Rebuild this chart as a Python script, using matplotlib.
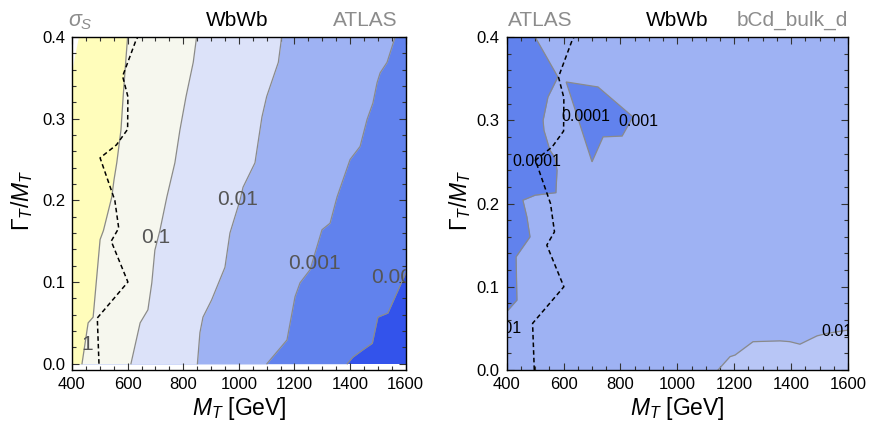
import matplotlib
matplotlib.use('Agg')
import matplotlib.pyplot as plt
import numpy as np

plt.rcParams['font.family'] = 'Liberation Sans'
plt.rcParams['mathtext.fontset'] = 'custom'
plt.rcParams['mathtext.rm'] = 'Liberation Sans'
plt.rcParams['mathtext.it'] = 'Liberation Sans:italic'

# ---- left panel: sigma_S contour boundaries (M_T in GeV at given Gamma/M) ----
# data edge (no points computed in the top-left corner)
edge_g = [0.0, 0.36, 0.38, 0.40]
edge_m = [400, 400, 411, 423]

c1_g = [0.0, 0.050, 0.057, 0.152, 0.163, 0.204, 0.225, 0.246, 0.286, 0.327, 0.369, 0.40]
c1_m = [436, 458, 476, 501, 513, 543, 551, 561, 576, 584, 593, 600]

c01_g = [0.0, 0.050, 0.066, 0.099, 0.139, 0.163, 0.204, 0.246, 0.286, 0.327, 0.369, 0.40]
c01_m = [612, 645, 673, 687, 698, 716, 741, 770, 788, 810, 836, 848]

c001_g = [0.0, 0.038, 0.057, 0.078, 0.118, 0.160, 0.200, 0.216, 0.246, 0.302, 0.327, 0.369, 0.40]
c001_m = [851, 860, 871, 902, 950, 968, 1004, 1015, 1058, 1083, 1100, 1142, 1154]

c0001_g = [0.0, 0.029, 0.082, 0.099, 0.115, 0.164, 0.172, 0.204, 0.250, 0.266, 0.299, 0.319,
           0.344, 0.356, 0.369, 0.40]
c0001_m = [1101, 1173, 1202, 1220, 1256, 1299, 1328, 1353, 1400, 1436, 1461, 1482,
           1497, 1508, 1533, 1562]

c00001_g = [0.0, 0.008, 0.017, 0.025, 0.057, 0.062, 0.111]
c00001_m = [1390, 1410, 1446, 1480, 1500, 1536, 1600]

# exclusion line (same on both panels)
excl_g = [0.0, 0.056, 0.100, 0.150, 0.166, 0.200, 0.252, 0.268, 0.287, 0.327, 0.352, 0.396, 0.40]
excl_m = [497, 491, 601, 541, 568, 554, 501, 560, 600, 601, 582, 630, 637]

# ---- right panel regions ----
dark_g = [0.072, 0.084, 0.136, 0.160, 0.184, 0.204, 0.210, 0.213, 0.240, 0.255, 0.264,
          0.288, 0.300, 0.328, 0.352, 0.40]
dark_m = [405, 436, 433, 482, 471, 457, 500, 573, 577, 570, 552,
          531, 528, 545, 580, 500]

island_m = [609, 721, 844, 806, 739, 700]
island_g = [0.346, 0.340, 0.304, 0.281, 0.280, 0.250]

light_m = [1143, 1185, 1203, 1266, 1361, 1396, 1431, 1491, 1527, 1600]
light_g = [0.0, 0.016, 0.018, 0.034, 0.035, 0.034, 0.031, 0.041, 0.044, 0.048]

# colours for the log bands
col_1 = '#fffdbb'
col_01 = '#f6f7ee'
col_001 = '#dce2f9'
col_0001 = '#9eb2f3'
col_00001 = '#6182ed'
col_low = '#3353eb'
col_light_r = '#b8c6f6'
line_col = '#8a8a8a'

W, H = 870, 429
fig = plt.figure(figsize=(W / 100, H / 100), dpi=100)


def px(x, y):
    return x / W, 1 - y / H


ax1 = fig.add_axes([72 / W, 1 - 370 / H, (405.7 - 72) / W, 333 / H])
ax2 = fig.add_axes([506.7 / W, 1 - 370 / H, (848 - 506.7) / W, 333 / H])

# left panel fills, from the smallest values up
ax1.fill_betweenx([0, 0.4], 400, 1600, color=col_low, lw=0)
ax1.fill_betweenx(c00001_g + [0.4], 400, c00001_m + [1600], color=col_00001, lw=0)
ax1.fill_betweenx(c0001_g, 400, c0001_m, color=col_0001, lw=0)
ax1.fill_betweenx(c001_g, 400, c001_m, color=col_001, lw=0)
ax1.fill_betweenx(c01_g, 400, c01_m, color=col_01, lw=0)
ax1.fill_betweenx(c1_g, 400, c1_m, color=col_1, lw=0)
ax1.fill_betweenx(edge_g, 400, edge_m, color='white', lw=0)
for g, m in [(c1_g, c1_m), (c01_g, c01_m), (c001_g, c001_m),
             (c0001_g, c0001_m), (c00001_g, c00001_m)]:
    ax1.plot(m, g, color=line_col, lw=0.9)
ax1.plot(excl_m, excl_g, color='black', lw=1.1, ls=(0, (3, 2)))

lab_kw = dict(fontsize=15, color='#555555', ha='center', va='center', clip_on=True)
ax1.text(997, 0.2006, '0.01', **lab_kw)
ax1.text(702, 0.154, '0.1', **lab_kw)
ax1.text(1272, 0.123, '0.001', **lab_kw)
ax1.text(1592, 0.105, '0.0001', **lab_kw)
ax1.text(453, 0.023, '1', **lab_kw)

# right panel
ax2.fill_betweenx([0, 0.4], 400, 1600, color=col_0001, lw=0)
ax2.fill_betweenx(dark_g, 400, dark_m, color=col_00001, lw=0)
ax2.plot(dark_m, dark_g, color=line_col, lw=0.9)
ax2.fill(island_m, island_g, color=col_00001, ec=line_col, lw=0.9)
ax2.fill_between(light_m, 0, light_g, color=col_light_r, lw=0)
ax2.plot(light_m, light_g, color=line_col, lw=0.9)
ax2.plot(excl_m, excl_g, color='black', lw=1.1, ls=(0, (3, 2)))

lab2 = dict(fontsize=11.5, color='black', ha='center', va='center', clip_on=True)
ax2.text(679, 0.304, '0.0001', **lab2)
ax2.text(862, 0.299, '0.001', **lab2)
ax2.text(505, 0.250, '0.0001', **lab2)
ax2.text(396, 0.050, '0.01', **lab2)
ax2.text(1561, 0.046, '0.01', **lab2)

for ax in (ax1, ax2):
    ax.set_xlim(400, 1600)
    ax.set_xticks(np.arange(400, 1601, 200))
    ax.set_xticks(np.arange(400, 1601, 50), minor=True)
    ax.set_yticks(np.arange(0, 0.41, 0.1))
    ax.set_yticks(np.arange(0, 0.401, 0.02), minor=True)
    ax.yaxis.set_major_formatter(matplotlib.ticker.FormatStrFormatter('%.1f'))
    ax.tick_params(which='both', direction='in', top=True, right=True,
                   labelsize=12, width=0.8, color='#333333')
    ax.tick_params(which='major', length=5, pad=5)
    ax.tick_params(which='minor', length=2.8)
    for sp in ax.spines.values():
        sp.set_linewidth(1.0)
ax1.set_ylim(-0.0077, 0.4)
ax2.set_ylim(0, 0.4)

# axis labels
for xc, yc in [(239, 408), (677, 408)]:
    fig.text(*px(xc, yc), r'$M_T$ [GeV]', fontsize=16.5, ha='center', va='center')
for xc, yc in [(22, 200), (460, 200)]:
    fig.text(*px(xc, yc), r'$\Gamma_T/M_T$', fontsize=16.5, ha='center', va='center',
             rotation=90)

# panel headers
fig.text(*px(68, 26), r'$\sigma_S$', fontsize=15.5, color='#8c8c8c', ha='left', va='baseline')
fig.text(*px(237, 26), 'WbWb', fontsize=15, color='black', ha='center', va='baseline')
fig.text(*px(398, 26), 'ATLAS', fontsize=15, color='#8c8c8c', ha='right', va='baseline')
fig.text(*px(508, 26), 'ATLAS', fontsize=15, color='#8c8c8c', ha='left', va='baseline')
fig.text(*px(677, 26), 'WbWb', fontsize=15, color='black', ha='center', va='baseline')
fig.text(*px(848, 26), 'bCd_bulk_d', fontsize=15, color='#8c8c8c', ha='right', va='baseline')

fig.savefig('out.png', dpi=100)
